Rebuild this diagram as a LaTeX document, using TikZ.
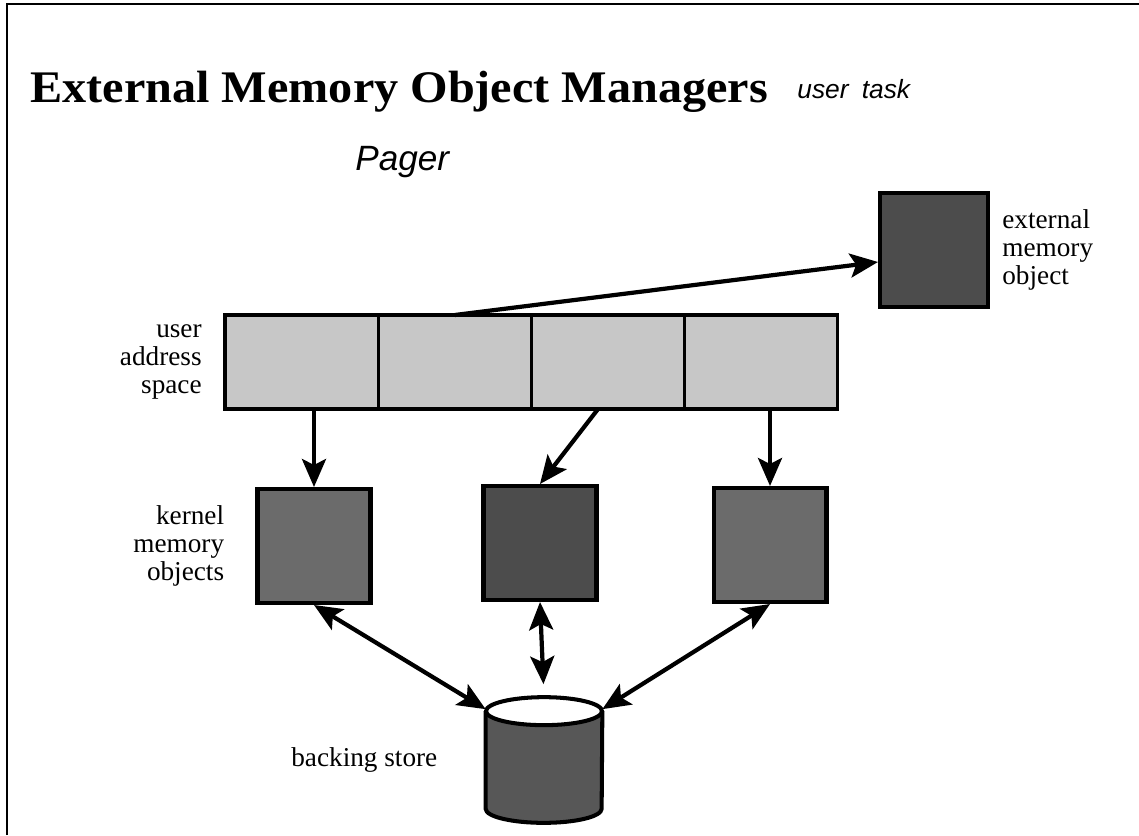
\documentclass[tikz,border=0pt]{standalone}
\usepackage{graphicx}
\usepackage{fontspec}
\setmainfont{Liberation Serif}
\newfontfamily\mano{Liberation Sans}
\usetikzlibrary{positioning,arrows.meta}

\tikzset{
  celda/.style={draw,line width=1.8pt,fill=black!22,minimum width=3.065cm,minimum height=1.88cm,inner sep=0,outer sep=0},
  objeto/.style={draw,line width=2.3pt,fill=black!58,minimum width=2.26cm,minimum height=2.28cm,inner sep=0},
  etiq/.style={font=\fontsize{15.5}{16}\selectfont,inner sep=0},
  flecha/.style={line width=2.4pt,-{Stealth[length=5.6mm,width=4.8mm,inset=1.2mm]}},
  dflecha/.style={line width=2.4pt,{Stealth[length=5.6mm,width=4.8mm,inset=1.2mm]}-{Stealth[length=5.6mm,width=4.8mm,inset=1.2mm]}},
}

\begin{document}
\begin{tikzpicture}[x=0.02cm,y=-0.02cm]
			\useasboundingbox (0,0) rectangle (1139,835);
			% Marco
			\draw[line width=1.3pt] (7,835) -- (7,4) -- (1139,4);

			% Titulo
			\node[anchor=base west,inner sep=0] (titulo) at (30,102) {\scalebox{1.12}[1.05]{\fontsize{24.5}{28}\selectfont\bfseries External Memory Object Managers}};
			\node[anchor=base west,inner sep=0] (tarea) at (797,98) {\mano\itshape\fontsize{15}{18}\selectfont user\hspace{0.5em}task};
			\node[anchor=base west,inner sep=0] (pager) at (355,170) {\mano\itshape\fontsize{20}{24}\selectfont Pager};

			% Espacio de direcciones
			\node[celda] (b1) at (301.6,362) {};
			\node[celda,right=0pt of b1] (b2) {};
			\node[celda,right=0pt of b2] (b3) {};
			\node[celda,right=0pt of b3] (b4) {};
			\node[etiq,align=right,left=0.46cm of b1] (lusr) {user\\address\\space};

			% Objetos
			\node[objeto,fill=black!70,minimum width=2.16cm] (ext) at (934,250) {};
			\node[etiq,align=left,right=0.24cm of ext] (lext) {external\\memory\\object};
			\node[objeto] (k1) at (314,546) {};
			\node[objeto,fill=black!70] (k2) at (540,543) {};
			\node[objeto] (k3) at (770,545) {};
			\node[etiq,align=right,left=0.62cm of k1] (lker) {kernel\\memory\\objects};

			% Almacen
			\node[minimum width=2.32cm,minimum height=2.5cm,inner sep=0] (cil) at (544,760) {};
			\draw[line width=2.3pt,fill=black!66] ([yshift=-0.28cm]cil.north west) -- ([yshift=0.28cm]cil.south west)
				arc[start angle=180,end angle=360,x radius=1.16cm,y radius=0.28cm] -- ([yshift=-0.28cm]cil.north east);
			\draw[line width=2.3pt,fill=white] ([yshift=-0.28cm]cil.north) ellipse[x radius=1.16cm,y radius=0.28cm];
			\node[etiq,left=0.96cm of cil] (lcil) {backing store};

			\draw[flecha] (b2.north) -- ([yshift=-0.24cm]ext.west);
			\draw[flecha] (k1.north |- b1.south) -- (k1.north);
			\draw[flecha] ([xshift=-0.2cm]b3.south) -- (k2.north);
			\draw[flecha] (k3.north |- b4.south) -- (k3.north);

			\draw[dflecha] (k1.south) -- ([yshift=-0.24cm]cil.north west);
			\draw[dflecha,shorten >=0.26cm] (k2.south) -- (cil.north);
			\draw[dflecha] (k3.south) -- ([yshift=-0.24cm]cil.north east);

		    \end{tikzpicture}
\end{document}
